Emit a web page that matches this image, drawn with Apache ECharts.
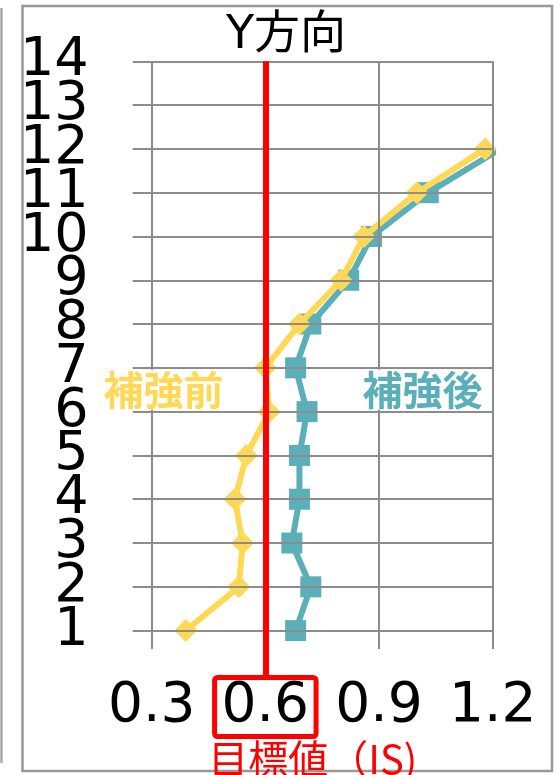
<!DOCTYPE html>
<html>
<head>
<meta charset="utf-8">
<script src="https://cdn.jsdelivr.net/npm/echarts@6/dist/echarts.min.js"></script>
<style>
  html, body { margin: 0; padding: 0; background: #fff; }
  #chart { width: 559px; height: 775px; }
</style>
</head>
<body>
<div id="chart"></div>
<script>
// Storey numbers (vertical axis) and Is index per storey
const floors = [1, 2, 3, 4, 5, 6, 7, 8, 9, 10, 11, 12];
const beforeRetrofit = [0.39, 0.53, 0.54, 0.52, 0.55, 0.61, 0.60, 0.69, 0.80, 0.86, 1.00, 1.18];
const afterRetrofit  = [0.68, 0.72, 0.67, 0.69, 0.69, 0.71, 0.68, 0.72, 0.82, 0.88, 1.03, 1.22];

// Tick labels
const floorTicks = [1, 2, 3, 4, 5, 6, 7, 8, 9, 10, 11, 12, 13, 14];
const isTicks = [0.3, 0.6, 0.9, 1.2];
const targetIs = 0.6;

const seriesNames = ['補強前', '補強後'];
const titleText = 'Y方向';
const targetName = '目標値（IS)';

const YELLOW = '#FFD955';
const TEAL = '#5BAFB8';
const RED = '#FF0000';
const GRID = '#8C8C8C';
const DIGIT_FONT = "'DejaVu Sans', 'Noto Sans CJK JP', sans-serif";
const CJK_FONT = "'Noto Sans CJK JP', sans-serif";

const chart = echarts.init(document.getElementById('chart'), null, { renderer: 'canvas' });

const pairs = arr => arr.map((v, i) => [v, floors[i]]);

const labelRich = {
  fontSize: 55,
  fontFamily: DIGIT_FONT,
  color: '#000',
  lineHeight: 46,
  padding: [2, 7, 2, 7],
  borderWidth: 5,
  borderRadius: 3
};

// The storey labels are large and touch each other, so odd and even
// storeys go on two coincident axes to keep every label visible.
const floorAxis = values => ({
  type: 'value',
  min: 0.58,
  max: 14,
  position: 'left',
  offset: 0,
  splitLine: { show: false },
  axisLine: { show: false },
  axisTick: { show: false },
  axisLabel: {
    customValues: values,
    showMinLabel: true,
    showMaxLabel: true,
    hideOverlap: false,
    margin: 44,
    fontSize: 54,
    fontFamily: DIGIT_FONT,
    color: '#000',
    padding: [0, 0, 17, 0]
  }
});

const option = {
  animation: false,
  backgroundColor: '#fff',
  title: {
    text: titleText,
    left: 226,
    top: 13,
    padding: 0,
    textStyle: { fontSize: 46, fontWeight: 'normal', fontFamily: DIGIT_FONT, color: '#000' }
  },
  graphic: [
    { type: 'rect', shape: { x: 22.5, y: 6, width: 529.5, height: 765 },
      style: { fill: 'none', stroke: '#999', lineWidth: 2.5 }, silent: true },
    { type: 'line', shape: { x1: 1.5, y1: 8, x2: 1.5, y2: 763 },
      style: { stroke: '#aaa', lineWidth: 2.5 }, silent: true }
  ],
  grid: {
    left: 132.7, right: 66.3, top: 61.3, bottom: 126,
    containLabel: false,
    outerBoundsMode: 'none'
  },
  xAxis: {
    type: 'value',
    min: 0.25,
    max: 1.2,
    splitLine: { show: false },
    axisLine: { show: false, onZero: false },
    axisTick: { show: true, customValues: [targetIs], length: 28, inside: false,
      lineStyle: { color: RED, width: 6 } },
    axisLabel: {
      customValues: isTicks,
      margin: 35,
      hideOverlap: false,
      formatter: v => (Math.abs(v - targetIs) < 1e-9 ? '{box|' : '{n|') + v.toFixed(1) + '}',
      rich: {
        n: Object.assign({}, labelRich, { borderColor: 'rgba(0,0,0,0)' }),
        box: Object.assign({}, labelRich, { borderColor: RED })
      }
    },
    name: targetName,
    nameLocation: 'middle',
    nameMoveOverlap: false,
    nameGap: 90,
    nameTextStyle: { fontSize: 40, fontFamily: CJK_FONT, color: RED }
  },
  yAxis: [
    floorAxis(floorTicks.filter(v => v % 2 === 1)),
    floorAxis(floorTicks.filter(v => v % 2 === 0))
  ],
  series: [
    {
      // gridlines at the tick values
      type: 'line',
      data: [],
      z: 1,
      silent: true,
      markLine: {
        silent: true,
        symbol: ['none', 'none'],
        label: { show: false },
        lineStyle: { color: GRID, width: 2, type: 'solid' },
        data: [
          ...isTicks.map(v => ({ xAxis: v })),
          ...floorTicks.map(v => ({ yAxis: v }))
        ]
      }
    },
    {
      name: seriesNames[1],
      type: 'line',
      data: pairs(afterRetrofit),
      z: 3,
      symbol: 'rect',
      symbolSize: 21,
      lineStyle: { color: TEAL, width: 6 },
      itemStyle: { color: TEAL },
      markPoint: {
        symbol: 'rect',
        symbolSize: 1,
        itemStyle: { color: 'rgba(0,0,0,0)' },
        label: {
          show: true, position: 'inside', formatter: seriesNames[1],
          fontSize: 40, fontWeight: 'bold', fontFamily: CJK_FONT, color: TEAL,
          backgroundColor: '#fff', padding: [0, 1]
        },
        data: [{ coord: [1.015, 6.5] }]
      }
    },
    {
      name: seriesNames[0],
      type: 'line',
      data: pairs(beforeRetrofit),
      z: 4,
      symbol: 'diamond',
      symbolSize: 23,
      lineStyle: { color: YELLOW, width: 6 },
      itemStyle: { color: YELLOW },
      markPoint: {
        symbol: 'rect',
        symbolSize: 1,
        itemStyle: { color: 'rgba(0,0,0,0)' },
        label: {
          show: true, position: 'inside', formatter: seriesNames[0],
          fontSize: 40, fontWeight: 'bold', fontFamily: CJK_FONT, color: YELLOW,
          backgroundColor: '#fff', padding: [0, 1]
        },
        data: [{ coord: [0.331, 6.5] }]
      }
    },
    {
      // target Is line
      type: 'line',
      data: [],
      z: 6,
      silent: true,
      markLine: {
        silent: true,
        symbol: ['none', 'none'],
        label: { show: false },
        lineStyle: { color: RED, width: 6, type: 'solid' },
        data: [{ xAxis: targetIs }]
      }
    }
  ]
};

chart.setOption(option);
</script>
</body>
</html>
